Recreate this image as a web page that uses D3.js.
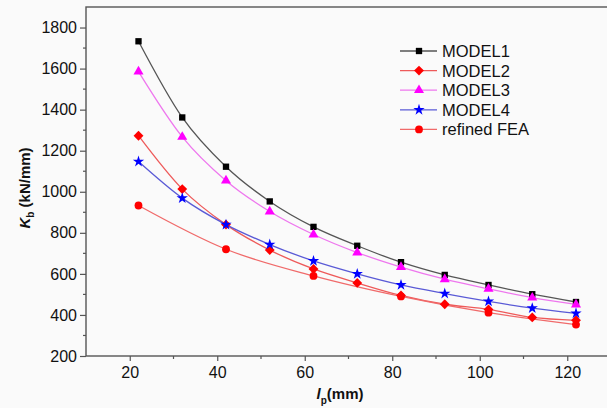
<!DOCTYPE html>
<html>
<head>
<meta charset="utf-8">
<script src="https://cdn.jsdelivr.net/npm/d3@7"></script>
<style>
  html, body { margin: 0; padding: 0; background: #fafafa; }
  svg { display: block; }
  text { font-family: "Liberation Sans", Arial, sans-serif; fill: #111; }
</style>
</head>
<body>
<svg id="chart" width="607" height="408"></svg>
<script>
// Bolt spacing l_p (mm) at which each model was evaluated
const lengths = [22, 32, 42, 52, 62, 72, 82, 92, 102, 112, 122];
// Stiffness K_b (kN/mm) for each analytical model
const model1 = [1733, 1362, 1122, 953, 829, 737, 657, 595, 546, 501, 463];
const model2 = [1273, 1013, 840, 716, 624, 556, 495, 452, 427, 388, 374];
const model3 = [1585, 1267, 1054, 904, 792, 704, 633, 574, 527, 484, 451];
const model4 = [1147, 969, 840, 743, 663, 600, 546, 504, 466, 433, 408];
// Refined finite element results (every 20 mm)
const feaLengths = [22, 42, 62, 82, 102, 122];
const feaValues = [933, 720, 590, 490, 411, 353];

const xTicks = [20, 40, 60, 80, 100, 120];
const xMinor = [30, 50, 70, 90, 110];
const yTicks = [200, 400, 600, 800, 1000, 1200, 1400, 1600, 1800];
const yMinor = [300, 500, 700, 900, 1100, 1300, 1500, 1700];

const seriesNames = ["MODEL1", "MODEL2", "MODEL3", "MODEL4", "refined FEA"];

const svg = d3.select("#chart");
const plotLeft = 86, plotRight = 611, plotTop = 7, plotBottom = 356;

const x = d3.scaleLinear().domain([10, 130]).range([plotLeft, plotRight]);
const y = d3.scaleLinear().domain([200, 1900]).range([plotBottom, plotTop]);

const series = [
  { name: seriesNames[0], xs: lengths, ys: model1, line: "#555555", fill: "#000000", shape: d3.symbolSquare, size: 40 },
  { name: seriesNames[1], xs: lengths, ys: model2, line: "#ee5a5a", fill: "#ff0000", shape: d3.symbolDiamond2, size: 62 },
  { name: seriesNames[2], xs: lengths, ys: model3, line: "#ee77ee", fill: "#ff00ff", shape: d3.symbolTriangle, size: 44 },
  { name: seriesNames[3], xs: lengths, ys: model4, line: "#5a5ad6", fill: "#0000ff", shape: d3.symbolStar, size: 40 },
  { name: seriesNames[4], xs: feaLengths, ys: feaValues, line: "#f06a6a", fill: "#ff0000", shape: d3.symbolCircle, size: 48 }
];

// Frame
svg.append("rect")
  .attr("x", plotLeft).attr("y", plotTop)
  .attr("width", plotRight - plotLeft).attr("height", plotBottom - plotTop)
  .attr("fill", "none").attr("stroke", "#555").attr("stroke-width", 1.4);

// Bottom axis (outward ticks)
const xAxis = svg.append("g").attr("transform", `translate(0,${plotBottom})`);
xAxis.call(d3.axisBottom(x).tickValues(xTicks).tickSize(5).tickPadding(6).tickFormat(d3.format("d")));
xAxis.append("g").selectAll("line").data(xMinor).join("line")
  .attr("x1", d => x(d)).attr("x2", d => x(d)).attr("y1", 0).attr("y2", 3)
  .attr("stroke", "#555").attr("stroke-width", 1.2);
xAxis.select(".domain").remove();
xAxis.selectAll(".tick line").attr("stroke", "#555").attr("stroke-width", 1.2);
xAxis.selectAll(".tick text").attr("font-size", 16).attr("fill", "#222")
  .attr("font-family", "Liberation Sans, Arial, sans-serif");

// Left axis (outward ticks)
const yAxis = svg.append("g").attr("transform", `translate(${plotLeft},0)`);
yAxis.call(d3.axisLeft(y).tickValues(yTicks).tickSize(6).tickPadding(3).tickFormat(d3.format("d")));
yAxis.append("g").selectAll("line").data(yMinor).join("line")
  .attr("y1", d => y(d)).attr("y2", d => y(d)).attr("x1", 0).attr("x2", -3)
  .attr("stroke", "#555").attr("stroke-width", 1.2);
yAxis.select(".domain").remove();
yAxis.selectAll(".tick line").attr("stroke", "#555").attr("stroke-width", 1.2);
yAxis.selectAll(".tick text").attr("font-size", 16).attr("fill", "#222")
  .attr("font-family", "Liberation Sans, Arial, sans-serif");

// Axis titles
const xTitle = svg.append("text")
  .attr("x", 340).attr("y", 399)
  .attr("text-anchor", "middle")
  .attr("font-size", 15).attr("font-weight", "bold");
xTitle.append("tspan").attr("font-style", "italic").text("l");
xTitle.append("tspan").attr("font-size", 10).attr("dy", 5).text("p");
xTitle.append("tspan").attr("dy", -5).text("(mm)");

const yTitle = svg.append("text")
  .attr("transform", "translate(30,188) rotate(-90)")
  .attr("text-anchor", "middle")
  .attr("font-size", 15).attr("font-weight", "bold");
yTitle.append("tspan").attr("font-style", "italic").text("K");
yTitle.append("tspan").attr("font-size", 10).attr("dy", 4).text("b");
yTitle.append("tspan").attr("dy", -4).text(" (kN/mm)");

// Series lines and markers
const lineGen = d3.line().curve(d3.curveMonotoneX);
const plot = svg.append("g");
series.forEach(s => {
  const pts = s.xs.map((v, i) => [x(v), y(s.ys[i])]);
  plot.append("path")
    .attr("d", lineGen(pts))
    .attr("fill", "none").attr("stroke", s.line).attr("stroke-width", 1.3);
});
series.forEach(s => {
  plot.append("g").selectAll("path").data(s.xs.map((v, i) => [v, s.ys[i]])).join("path")
    .attr("transform", d => `translate(${x(d[0])},${y(d[1])})`)
    .attr("d", d3.symbol().type(s.shape).size(s.size))
    .attr("fill", s.fill);
});

// Legend
const legend = svg.append("g");
series.forEach((s, i) => {
  const ly = 51 + i * 19.6;
  legend.append("line").attr("x1", 400).attr("x2", 437).attr("y1", ly).attr("y2", ly)
    .attr("stroke", s.line).attr("stroke-width", 1.3);
  legend.append("path").attr("transform", `translate(419,${ly})`)
    .attr("d", d3.symbol().type(s.shape).size(s.size)).attr("fill", s.fill);
  legend.append("text").attr("x", 442).attr("y", ly).attr("dy", "0.36em")
    .attr("font-size", 16.5).attr("fill", "#222").text(s.name);
});
</script>
</body>
</html>
